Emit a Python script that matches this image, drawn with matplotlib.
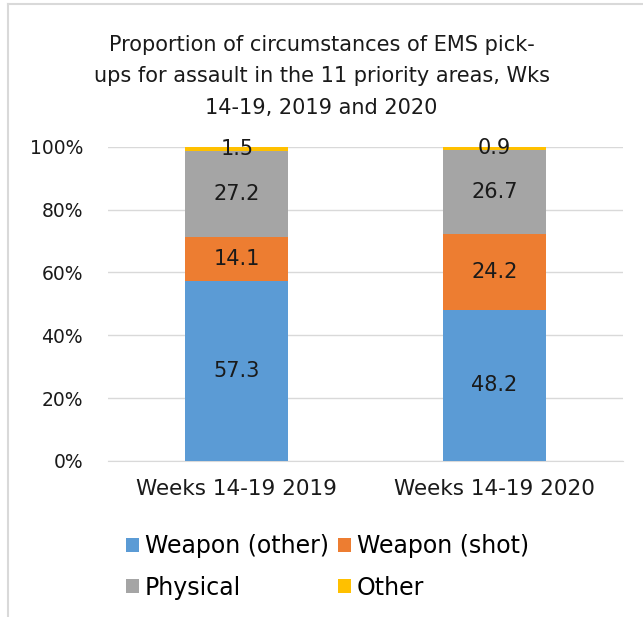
import matplotlib
matplotlib.use("Agg")
import matplotlib.pyplot as plt
import numpy as np

plt.rcParams['font.family'] = ['DejaVu Sans']

categories = ['Weeks 14-19 2019', 'Weeks 14-19 2020']
series_names = ['Weapon (other)', 'Weapon (shot)', 'Physical', 'Other']
weapon_other = [57.3, 48.2]
weapon_shot = [14.1, 24.2]
physical = [27.2, 26.7]
other = [1.5, 0.9]
colors = ['#5B9BD5', '#ED7D31', '#A5A5A5', '#FFC000']

fig = plt.figure(figsize=(6.43, 6.17), dpi=100)
ax = fig.add_axes([0.168, 0.253, 0.801, 0.509])

x = np.arange(len(categories))
bottom = np.zeros(len(categories))
handles = []
for name, vals, c in zip(series_names, [weapon_other, weapon_shot, physical, other], colors):
    v = np.array(vals) / 100.0
    b = ax.bar(x, v, 0.4, bottom=bottom, color=c, label=name, zorder=3)
    handles.append(b)
    # data labels centred in each segment
    for xi, vi, bi in zip(x, vals, bottom):
        ax.text(xi, bi + vi / 200.0, '%.1f' % vi, ha='center', va='center',
                fontsize=15, color='#1a1a1a', zorder=4)
    bottom = bottom + v

ax.set_xlim(-0.5, 1.5)
ax.set_ylim(0, 1.0)
yt = np.arange(0, 1.01, 0.2)
ax.set_yticks(yt)
ax.set_yticklabels(['%d%%' % round(t * 100) for t in yt])
ax.set_xticks(x)
ax.set_xticklabels(categories)
ax.tick_params(axis='both', length=0, colors='#1a1a1a')
ax.tick_params(axis='y', pad=18, labelsize=13.5)
ax.tick_params(axis='x', pad=13, labelsize=15.5)
ax.yaxis.grid(True, color='#d9d9d9', linewidth=1, zorder=0)
for s in ['top', 'right', 'left']:
    ax.spines[s].set_visible(False)
ax.spines['bottom'].set_color('#d9d9d9')

fig.text(0.5, 0.943, 'Proportion of circumstances of EMS pick-\nups for assault in the 11 priority areas, Wks\n14-19, 2019 and 2020',
         ha='center', va='top', fontsize=15, color='#1a1a1a', linespacing=1.7)

# legend filled column-wise, so reorder to get row-wise layout
order = [0, 2, 1, 3]
fig.legend([handles[i] for i in order], [series_names[i] for i in order], ncol=2,
           loc='upper left', bbox_to_anchor=(0.196, 0.1345), frameon=False,
           borderpad=0, borderaxespad=0,
           fontsize=17, handlelength=0.55, handleheight=0.55, handletextpad=0.25,
           columnspacing=0.38, labelspacing=0.75)

# border
fig.add_artist(plt.Line2D([0.0125, 0.0125], [0, 0.994], color='#d9d9d9', lw=1.5, transform=fig.transFigure))
fig.add_artist(plt.Line2D([0.0125, 1], [0.994, 0.994], color='#d9d9d9', lw=1.5, transform=fig.transFigure))

fig.savefig('out.png', dpi=100)
